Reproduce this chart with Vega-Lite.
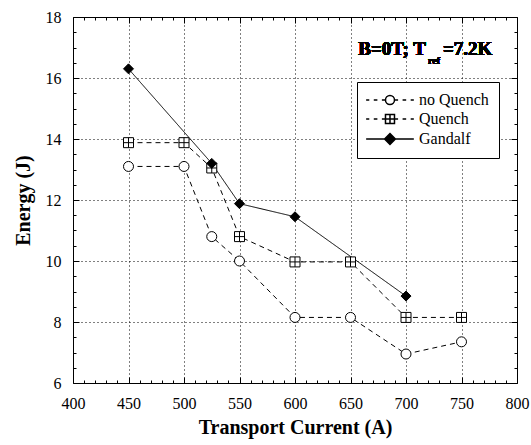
{
  "$schema": "https://vega.github.io/schema/vega-lite/v6.json",
  "width": 444,
  "height": 366,
  "autosize": "none",
  "padding": {"left": 73, "top": 17, "right": 14, "bottom": 62},
  "config": {
    "font": "Liberation Serif",
    "background": "white",
    "view": {"stroke": "black", "strokeWidth": 1},
    "axis": {
      "labelFont": "Liberation Serif",
      "labelFontSize": 16,
      "labelColor": "black",
      "titleFont": "Liberation Serif",
      "titleFontSize": 20,
      "titleFontWeight": "bold",
      "titleColor": "black",
      "domain": false,
      "tickColor": "black",
      "tickWidth": 1,
      "gridColor": "black",
      "gridDash": [1, 3],
      "gridWidth": 1,
      "labelOverlap": false,
      "labelFlush": false
    }
  },
  "data": {
    "values": [
      {"series": "no Quench", "I": 450, "E": 13.1},
      {"series": "no Quench", "I": 500, "E": 13.1},
      {"series": "no Quench", "I": 525, "E": 10.8},
      {"series": "no Quench", "I": 550, "E": 10.0},
      {"series": "no Quench", "I": 600, "E": 8.15},
      {"series": "no Quench", "I": 650, "E": 8.15},
      {"series": "no Quench", "I": 700, "E": 6.95},
      {"series": "no Quench", "I": 750, "E": 7.35},
      {"series": "Quench", "I": 450, "E": 13.88},
      {"series": "Quench", "I": 500, "E": 13.88},
      {"series": "Quench", "I": 525, "E": 13.05},
      {"series": "Quench", "I": 550, "E": 10.8},
      {"series": "Quench", "I": 600, "E": 9.97},
      {"series": "Quench", "I": 650, "E": 9.97},
      {"series": "Quench", "I": 700, "E": 8.15},
      {"series": "Quench", "I": 750, "E": 8.15},
      {"series": "Gandalf", "I": 450, "E": 16.3},
      {"series": "Gandalf", "I": 525, "E": 13.2},
      {"series": "Gandalf", "I": 550, "E": 11.88},
      {"series": "Gandalf", "I": 600, "E": 11.45},
      {"series": "Gandalf", "I": 700, "E": 8.85}
    ]
  },
  "layer": [
    {
      "encoding": {
        "x": {
          "field": "I", "type": "quantitative",
          "scale": {"domain": [400, 800], "nice": false, "zero": false},
          "axis": {
            "title": "Transport Current (A)",
            "values": [400,410,420,430,440,450,460,470,480,490,500,510,520,530,540,550,560,570,580,590,600,610,620,630,640,650,660,670,680,690,700,710,720,730,740,750,760,770,780,790,800],
            "labelExpr": "datum.value % 50 === 0 ? format(datum.value, 'd') : ''",
            "tickSize": {"condition": {"test": "datum.value % 50 === 0", "value": -6}, "value": -3},
            "gridOpacity": {"condition": {"test": "datum.value % 50 === 0 && datum.value > 400 && datum.value < 800", "value": 1}, "value": 0},
            "grid": true,
            "labelPadding": 18,
            "titlePadding": 3
          }
        },
        "y": {
          "field": "E", "type": "quantitative",
          "scale": {"domain": [6, 18], "nice": false, "zero": false},
          "axis": {
            "title": "Energy (J)",
            "values": [6,6.5,7,7.5,8,8.5,9,9.5,10,10.5,11,11.5,12,12.5,13,13.5,14,14.5,15,15.5,16,16.5,17,17.5,18],
            "labelExpr": "datum.value % 2 === 0 ? format(datum.value, 'd') : ''",
            "tickSize": {"condition": {"test": "datum.value % 2 === 0", "value": -6}, "value": -3},
            "gridOpacity": {"condition": {"test": "datum.value % 2 === 0 && datum.value > 6 && datum.value < 18", "value": 1}, "value": 0},
            "grid": true,
            "labelPadding": 18,
            "titlePadding": 12
          }
        }
      },
      "layer": [
        {
          "mark": {"type": "line", "color": "black", "strokeWidth": 1},
          "encoding": {
            "strokeDash": {
              "field": "series", "type": "nominal",
              "scale": {"domain": ["no Quench", "Quench", "Gandalf"], "range": [[5, 4], [5, 4], [1, 0]]},
              "legend": null
            }
          }
        },
        {
          "mark": {"type": "point", "filled": true, "stroke": "black", "strokeWidth": 1, "size": 100, "opacity": 1},
          "encoding": {
            "shape": {
              "field": "series", "type": "nominal",
              "scale": {"domain": ["no Quench", "Quench", "Gandalf"], "range": ["circle", "M-1,-1H1V1H-1ZM0,-1V1M-1,0H1", "diamond"]},
              "legend": null
            },
            "fill": {
              "field": "series", "type": "nominal",
              "scale": {"domain": ["no Quench", "Quench", "Gandalf"], "range": ["white", "white", "black"]},
              "legend": null
            }
          }
        },
        {
          "mark": {"type": "point", "filled": true, "stroke": "black", "strokeWidth": 1, "opacity": 0},
          "encoding": {
            "shape": {
              "field": "series", "type": "nominal",
              "scale": {"domain": ["no Quench", "Quench", "Gandalf"], "range": [
                "M-1.97,0H-1.27M-0.27,0H0.53M1.53,0H2.28M4.38,0H5.13M6.13,0H6.93M7.93,0H8.63M4.33,0A1,1,0,1,1,2.33,0A1,1,0,1,1,4.33,0Z",
                "M-1.97,0H-1.27M-0.27,0H0.53M1.53,0H2.28M4.38,0H5.13M6.13,0H6.93M7.93,0H8.63M2.33,-1H4.33V1H2.33ZM3.33,-1V1M2.33,0H4.33",
                "M-1.97,0H8.63M3.33,-1.2L4.53,0L3.33,1.2L2.13,0Z"
              ]},
              "legend": {
                "title": null, "orient": "none", "legendX": 284, "legendY": 65,
                "strokeColor": "black", "fillColor": "white", "padding": 10,
                "labelFont": "Liberation Serif", "labelFontSize": 16, "labelColor": "black",
                "symbolSize": 81, "symbolOpacity": 1,
                "labelOffset": 36, "rowPadding": 3,
                "encode": {
                  "symbols": {"update": {"stroke": {"value": "black"}, "strokeWidth": {"value": 1}, "opacity": {"value": 1}}},
                  "legend": {"update": {"strokeWidth": {"value": 1.5}}}
                }
              }
            },
            "fill": {
              "field": "series", "type": "nominal",
              "scale": {"domain": ["no Quench", "Quench", "Gandalf"], "range": ["white", "white", "black"]},
              "legend": {
                "title": null, "orient": "none", "legendX": 284, "legendY": 65,
                "strokeColor": "black", "fillColor": "white", "padding": 10,
                "labelFont": "Liberation Serif", "labelFontSize": 16, "labelColor": "black",
                "symbolSize": 81, "symbolOpacity": 1,
                "labelOffset": 36, "rowPadding": 3,
                "encode": {
                  "symbols": {"update": {"stroke": {"value": "black"}, "strokeWidth": {"value": 1}, "opacity": {"value": 1}}},
                  "legend": {"update": {"strokeWidth": {"value": 1.5}}}
                }
              }
            }
          }
        },
        {
          "mark": {"type": "text", "align": "right", "baseline": "alphabetic", "fontSize": 19, "fontWeight": "bold", "color": "black", "font": "Liberation Serif"},
          "encoding": {
            "x": {"datum": 718, "type": "quantitative"},
            "y": {"datum": 16.75, "type": "quantitative"},
            "text": {"value": "B=0T; T"}
          }
        },
        {
          "mark": {"type": "text", "align": "left", "baseline": "alphabetic", "fontSize": 10, "fontWeight": "bold", "color": "black", "font": "Liberation Serif", "dx": 2, "dy": 9},
          "encoding": {
            "x": {"datum": 718, "type": "quantitative"},
            "y": {"datum": 16.75, "type": "quantitative"},
            "text": {"value": "ref"}
          }
        },
        {
          "mark": {"type": "text", "align": "left", "baseline": "alphabetic", "fontSize": 19, "fontWeight": "bold", "color": "black", "font": "Liberation Serif", "dx": 17},
          "encoding": {
            "x": {"datum": 718, "type": "quantitative"},
            "y": {"datum": 16.75, "type": "quantitative"},
            "text": {"value": "=7.2K"}
          }
        }
      ],
      "resolve": {"scale": {"shape": "independent", "fill": "independent"}}
    },
    {
      "mark": {"type": "point", "opacity": 0},
      "encoding": {
        "x": {
          "field": "I", "type": "quantitative",
          "axis": {
            "orient": "top", "title": null, "labels": false, "grid": false,
            "values": [400,410,420,430,440,450,460,470,480,490,500,510,520,530,540,550,560,570,580,590,600,610,620,630,640,650,660,670,680,690,700,710,720,730,740,750,760,770,780,790,800],
            "tickSize": {"condition": {"test": "datum.value % 50 === 0", "value": -6}, "value": -3}
          }
        },
        "y": {
          "field": "E", "type": "quantitative",
          "axis": {
            "orient": "right", "title": null, "labels": false, "grid": false,
            "values": [6,6.5,7,7.5,8,8.5,9,9.5,10,10.5,11,11.5,12,12.5,13,13.5,14,14.5,15,15.5,16,16.5,17,17.5,18],
            "tickSize": {"condition": {"test": "datum.value % 2 === 0", "value": -6}, "value": -3}
          }
        }
      }
    }
  ],
  "resolve": {"axis": {"x": "independent", "y": "independent"}}
}
